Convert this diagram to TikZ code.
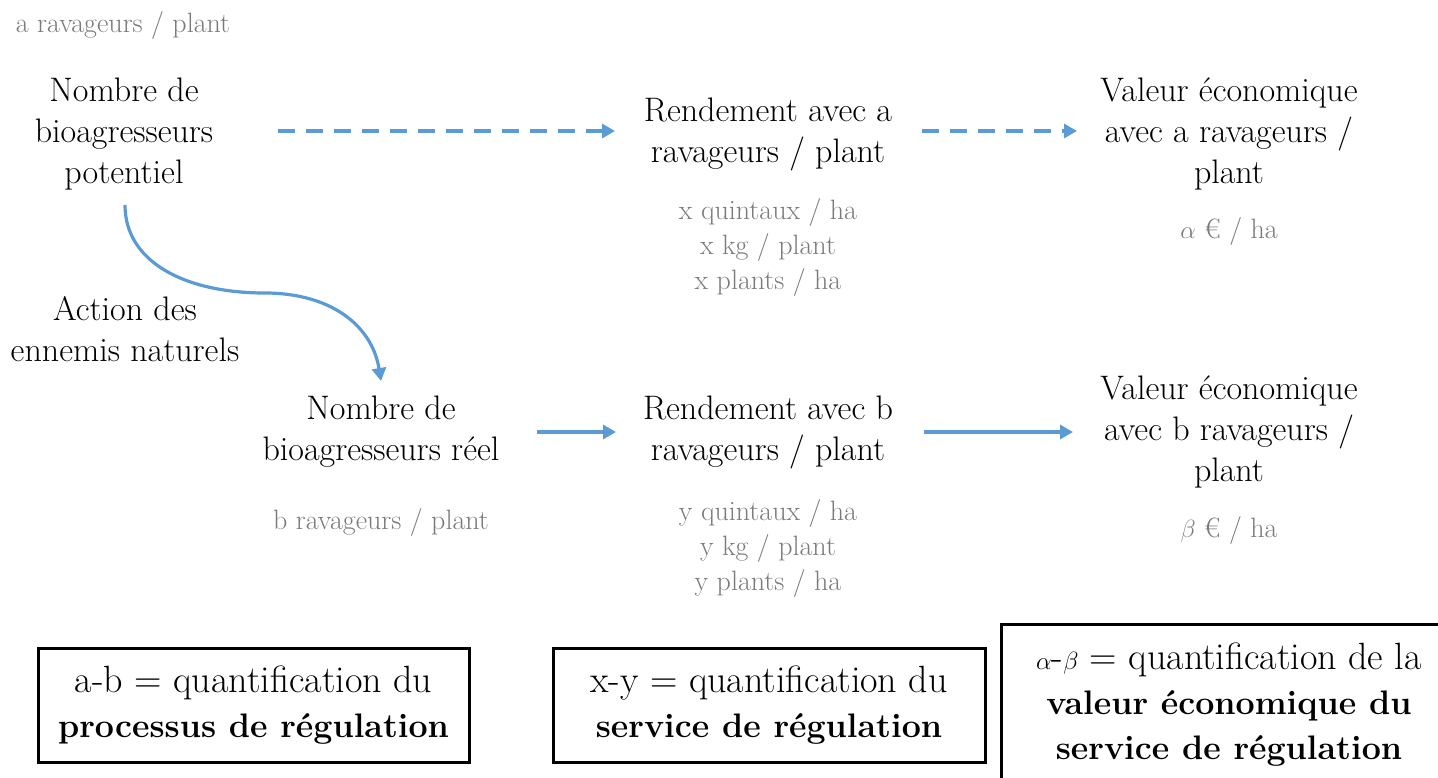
\documentclass[tikz,border=0pt]{standalone}
\usetikzlibrary{arrows.meta}
\definecolor{arrowblue}{HTML}{5B9BD5}
\definecolor{lightgray}{HTML}{7A7A7A}
\newcommand{\boldline}[1]{\textbf{\fontsize{34}{45}\selectfont #1}}
\tikzset{
  maintext/.style={inner sep=0pt, align=center, font=\fontsize{34}{41}\selectfont},
  graytext/.style={inner sep=0pt, align=center, text=lightgray, font=\fontsize{28}{35}\selectfont},
  boxtext/.style={draw=black, line width=3pt, inner sep=0pt, align=center, font=\fontsize{38}{45}\selectfont},
  flow/.style={draw=arrowblue, line width=3.2pt, -{Triangle[length=13pt,width=14pt]}},
  dashflow/.style={flow, dash pattern=on 17pt off 11pt},
}
\begin{document}
\begin{tikzpicture}[x=1pt,y=-1pt]
\useasboundingbox (0,0) rectangle (1438,777);
% top label
\node[graytext] (aplant) at (123,25) {a ravageurs / plant};
% row 1
\node[maintext] (pot) at (124,134) {Nombre de\\bioagresseurs\\potentiel};
\node[maintext] (renda) at (768,134) {Rendement avec a\\ravageurs / plant};
\node[graytext] (xval) at (768,247) {x quintaux / ha\\x kg / plant\\x plants / ha};
\node[maintext] (vala) at (1229,134) {Valeur économique\\avec a ravageurs /\\plant};
\node[graytext] (alpha) at (1229,231) {$\alpha$ € / ha};
% action
\node[maintext] (action) at (125,329) {Action des\\ennemis naturels};
% row 2
\node[maintext] (reel) at (381,432) {Nombre de\\bioagresseurs réel};
\node[graytext] (bplant) at (381,522) {b ravageurs / plant};
\node[maintext] (rendb) at (768,432) {Rendement avec b\\ravageurs / plant};
\node[graytext] (yval) at (768,548) {y quintaux / ha\\y kg / plant\\y plants / ha};
\node[maintext] (valb) at (1229,432) {Valeur économique\\avec b ravageurs /\\plant};
\node[graytext] (beta) at (1229,530) {$\beta$ € / ha};
% boxes
\node[boxtext, minimum width=431pt, minimum height=114pt] (box1) at (253.5,705) {a-b = quantification du\\\boldline{processus de régulation}};
\node[boxtext, minimum width=432pt, minimum height=114pt] (box2) at (769,705) {x-y = quantification du\\\boldline{service de régulation}};
\node[boxtext, minimum width=456pt, minimum height=162pt] (box3) at (1229,705) {$\alpha$-$\beta$ = quantification de la\\\boldline{valeur économique du}\\\boldline{service de régulation}};
% coordinates for arrow ends
\coordinate (d1s) at (278,131);
\coordinate (d1e) at (615,131);
\coordinate (d2s) at (922,131);
\coordinate (d2e) at (1077,131);
\coordinate (s1s) at (537,432);
\coordinate (s1e) at (616,432);
\coordinate (s2s) at (924,432);
\coordinate (s2e) at (1073,432);
\coordinate (cs) at (125,205);
\coordinate (cm) at (265,293);
\coordinate (ce) at (381,381);
% connectors
\draw[dashflow] (d1s) -- (d1e);
\draw[dashflow] (d2s) -- (d2e);
\draw[flow] (s1s) -- (s1e);
\draw[flow] (s2s) -- (s2e);
\draw[flow] (cs) .. controls (125,262) and (185,293) .. (cm) .. controls (330,293) and (372,325) .. (ce);
\end{tikzpicture}
\end{document}
